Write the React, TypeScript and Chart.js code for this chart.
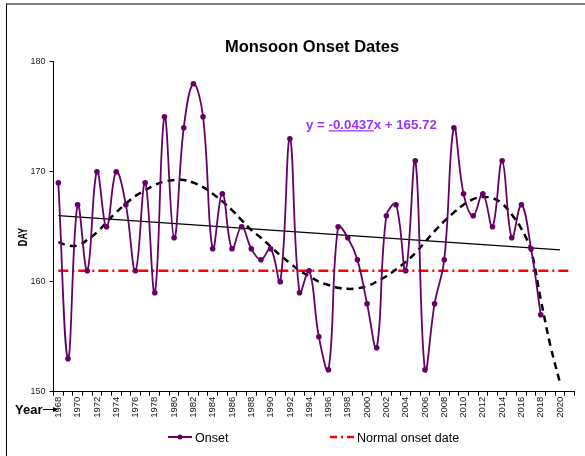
import React, { useEffect, useRef } from 'react';
import { Chart, registerables } from 'chart.js';

Chart.register(...registerables);

const FONT = "'Liberation Sans', Arial, Helvetica, sans-serif";

// Category axis: one slot per year (the axis runs one year past 2020)
const YEARS = [
  '1968', '1969', '1970', '1971', '1972', '1973', '1974', '1975', '1976', '1977',
  '1978', '1979', '1980', '1981', '1982', '1983', '1984', '1985', '1986', '1987',
  '1988', '1989', '1990', '1991', '1992', '1993', '1994', '1995', '1996', '1997',
  '1998', '1999', '2000', '2001', '2002', '2003', '2004', '2005', '2006', '2007',
  '2008', '2009', '2010', '2011', '2012', '2013', '2014', '2015', '2016', '2017',
  '2018', '2019', '2020', '2021',
];

// Monsoon onset day (1968 - 2018)
const ONSET = [
  169, 153, 167, 161, 170, 165, 170, 167, 161, 169,
  159, 175, 164, 174, 178, 175, 163, 168, 163, 165,
  163, 162, 163, 160, 173, 159, 161, 155, 152, 165,
  164, 162, 158, 154, 166, 167, 161, 171, 152, 158,
  162, 174, 168, 166, 168, 165, 171, 164, 167, 163,
  157,
];

// Polynomial trend (dashed), 1968 - 2020
const POLY_TREND = [
  163.6, 163.3, 163.3, 163.8, 164.5, 165.4, 166.3, 167.1, 167.8, 168.3,
  168.8, 169.1, 169.25, 169.25, 169.0, 168.6, 168.0, 167.3, 166.5, 165.6,
  164.7, 164.0, 163.2, 162.4, 161.7, 161.0, 160.5, 160.0, 159.7, 159.45,
  159.35, 159.4, 159.6, 160.0, 160.5, 161.1, 161.8, 162.6, 163.6, 164.6,
  165.5, 166.3, 167.0, 167.5, 167.7, 167.6, 167.1, 166.1, 164.8, 162.8,
  158.4, 154.2, 150.8,
];

// Linear trend line end points
const LINEAR_TREND_YEARS = ['1968', '2020'];
const LINEAR_TREND_VALUES = [166.0, 162.9];

// Normal onset date
const NORMAL_YEARS = ['1968', '2021'];
const NORMAL_ONSET = [161, 161];

const Y_MIN = 150;
const Y_MAX = 180;
const Y_STEP = 10;

const TITLE = 'Monsoon Onset Dates';
const Y_TITLE = 'DAY';
const X_NOTE = 'Year';
const EQ_PARTS = ['y = ', '-0.0437', 'x + 165.72'];
const LEGEND_ONSET = 'Onset';
const LEGEND_NORMAL = 'Normal onset date';

const PURPLE = '#660066';
const RED = '#FF0000';

const annotations = {
  id: 'annotations',
  afterDraw(chart: any) {
    const ctx = chart.ctx as CanvasRenderingContext2D;
    ctx.save();

    // Title
    ctx.font = `bold 16.5px ${FONT}`;
    ctx.fillStyle = '#000';
    ctx.textAlign = 'center';
    ctx.textBaseline = 'middle';
    ctx.fillText(TITLE, 312, 47.5);

    // Trendline equation
    ctx.font = `bold 13.3px ${FONT}`;
    ctx.fillStyle = '#9933FF';
    ctx.textAlign = 'left';
    ctx.textBaseline = 'alphabetic';
    const ex = 306;
    const ey = 129.3;
    ctx.fillText(EQ_PARTS.join(''), ex, ey);
    const w0 = ctx.measureText(EQ_PARTS[0]).width;
    const w1 = ctx.measureText(EQ_PARTS[1]).width;
    ctx.strokeStyle = '#9933FF';
    ctx.lineWidth = 1.3;
    ctx.beginPath();
    ctx.moveTo(ex + w0, ey + 1.6);
    ctx.lineTo(ex + w0 + w1, ey + 1.6);
    ctx.stroke();

    // Y axis title (condensed)
    ctx.save();
    ctx.translate(23, 237);
    ctx.rotate(-Math.PI / 2);
    ctx.scale(0.7, 1);
    ctx.font = `bold 13px ${FONT}`;
    ctx.fillStyle = '#000';
    ctx.textAlign = 'center';
    ctx.textBaseline = 'middle';
    ctx.fillText(Y_TITLE, 0, 0);
    ctx.restore();

    // "Year" note with arrow
    ctx.font = `bold 13px ${FONT}`;
    ctx.fillStyle = '#000';
    ctx.textAlign = 'left';
    ctx.textBaseline = 'alphabetic';
    ctx.fillText(X_NOTE, 15, 413.5);
    ctx.strokeStyle = '#000';
    ctx.lineWidth = 1;
    ctx.beginPath();
    ctx.moveTo(43, 409.5);
    ctx.lineTo(55, 409.5);
    ctx.stroke();
    ctx.beginPath();
    ctx.moveTo(58, 409.5);
    ctx.lineTo(53, 407);
    ctx.lineTo(53, 412);
    ctx.closePath();
    ctx.fill();

    // Legend
    const ly = 437;
    ctx.strokeStyle = PURPLE;
    ctx.lineWidth = 2;
    ctx.beginPath();
    ctx.moveTo(168, ly);
    ctx.lineTo(192, ly);
    ctx.stroke();
    ctx.fillStyle = PURPLE;
    ctx.beginPath();
    ctx.arc(180, ly, 2.5, 0, Math.PI * 2);
    ctx.fill();

    ctx.strokeStyle = RED;
    ctx.lineWidth = 2.5;
    ctx.setLineDash([7, 4, 2, 4]);
    ctx.beginPath();
    ctx.moveTo(330, ly);
    ctx.lineTo(356, ly);
    ctx.stroke();
    ctx.setLineDash([]);

    ctx.font = `12.5px ${FONT}`;
    ctx.fillStyle = '#000';
    ctx.textBaseline = 'alphabetic';
    ctx.fillText(LEGEND_ONSET, 195, 441.7);
    ctx.fillText(LEGEND_NORMAL, 357, 441.7);

    ctx.restore();
  },
};

export default function App() {
  const ref = useRef<HTMLCanvasElement | null>(null);

  useEffect(() => {
    if (!ref.current) return;
    const chart = new Chart(ref.current, {
      type: 'line',
      data: {
        labels: YEARS,
        datasets: [
          {
            label: LEGEND_ONSET,
            data: ONSET,
            borderColor: PURPLE,
            backgroundColor: PURPLE,
            borderWidth: 1.8,
            pointRadius: 2.8,
            pointBorderWidth: 0,
            pointBackgroundColor: PURPLE,
            tension: 0.4,
            fill: false,
          },
          {
            label: 'Linear trend',
            data: LINEAR_TREND_YEARS.map((x, i) => ({ x, y: LINEAR_TREND_VALUES[i] })),
            borderColor: '#000',
            borderWidth: 1.2,
            pointRadius: 0,
            tension: 0,
            fill: false,
          },
          {
            label: 'Poly trend',
            data: POLY_TREND,
            borderColor: '#000',
            borderWidth: 2.5,
            borderDash: [7, 5],
            pointRadius: 0,
            tension: 0.4,
            fill: false,
          },
          {
            label: LEGEND_NORMAL,
            data: NORMAL_YEARS.map((x, i) => ({ x, y: NORMAL_ONSET[i] })),
            borderColor: RED,
            borderWidth: 2.5,
            borderDash: [10, 4, 2, 4],
            pointRadius: 0,
            tension: 0,
            fill: false,
          },
        ],
      },
      options: {
        animation: false,
        responsive: false,
        devicePixelRatio: 1,
        layout: { padding: { left: 0, right: 47.5, top: 61.7, bottom: 0 } },
        plugins: {
          legend: { display: false },
          tooltip: { enabled: false },
          title: { display: false },
        },
        scales: {
          x: {
            type: 'category',
            offset: true,
            grid: {
              offset: true,
              drawOnChartArea: false,
              drawTicks: true,
              tickLength: 4,
              color: '#000',
            },
            border: { color: '#000', width: 1 },
            ticks: {
              autoSkip: false,
              minRotation: 90,
              maxRotation: 90,
              padding: 1,
              color: '#111',
              font: { family: FONT, size: 9.5 },
              callback: (_v: any, i: number) => {
                const yr = Number(YEARS[i]);
                return yr % 2 === 0 && yr <= 2020 ? YEARS[i] : '';
              },
            },
            afterFit: (s: any) => {
              s.height = 64.3;
            },
          },
          y: {
            min: Y_MIN,
            max: Y_MAX,
            grid: { drawOnChartArea: false, tickLength: 4, color: '#000' },
            border: { color: '#000', width: 1 },
            ticks: {
              stepSize: Y_STEP,
              padding: 4,
              color: '#222',
              font: { family: FONT, size: 9 },
            },
            afterFit: (s: any) => {
              s.width = 53.5;
            },
          },
        },
      },
      plugins: [annotations],
    } as any);
    return () => chart.destroy();
  }, []);

  return (
    <div
      style={{
        position: 'fixed',
        left: 0,
        top: 0,
        width: 585,
        height: 456,
        overflow: 'hidden',
        background: '#fff',
      }}
    >
      <canvas
        ref={ref}
        width={622}
        height={456}
        style={{ position: 'absolute', left: 0, top: 0, width: 622, height: 456 }}
      />
      <div
        style={{
          position: 'absolute',
          left: 6,
          top: 3,
          width: 700,
          height: 600,
          borderTop: '2px solid #808080',
          borderLeft: '1px solid #000',
          pointerEvents: 'none',
        }}
      />
    </div>
  );
}
